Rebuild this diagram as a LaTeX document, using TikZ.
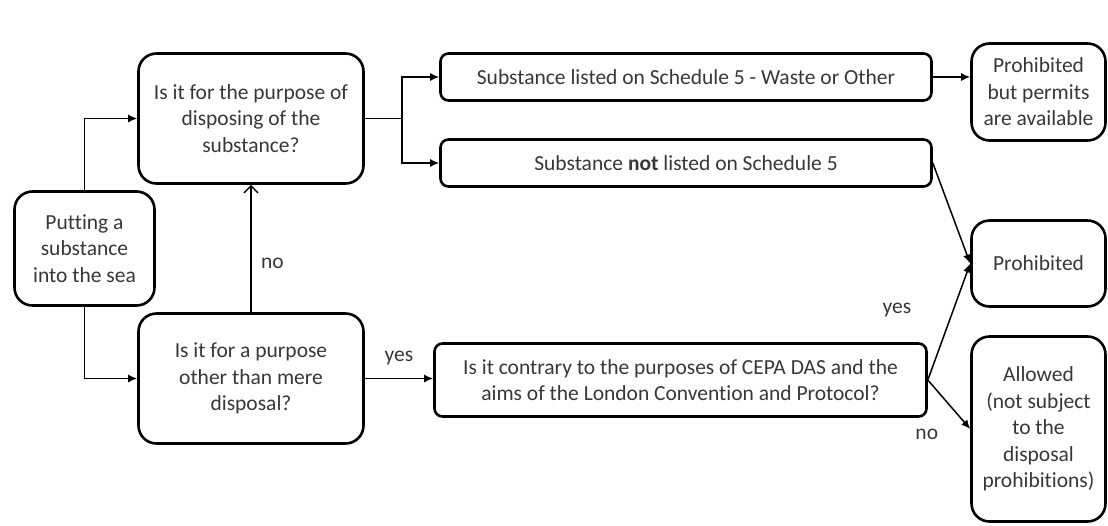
\documentclass[tikz,border=0pt]{standalone}
\usepackage{fontspec}
\setmainfont{Carlito}[Ligatures={NoCommon}]
\usetikzlibrary{arrows.meta}
\definecolor{txtgray}{RGB}{55,55,55}
\begin{document}
\begin{tikzpicture}[x=1pt, y=-1pt,
  box/.style={draw, line width=2.6pt, rounded corners=18pt, align=center, text=txtgray,
    inner sep=0pt, font=\fontsize{21.5}{26.5}\selectfont},
  thin/.style={box, rounded corners=8pt},
  arr/.style={line width=1.5pt, -{Latex[length=9pt,width=8pt]}},
  openarr/.style={line width=1.5pt, -{Straight Barb[length=7pt,width=14pt,line width=1.5pt]}},
  lbl/.style={text=txtgray, font=\fontsize{21.5}{24}\selectfont}]
\useasboundingbox (0,0) rectangle (1108,525);

\node[box, minimum width=140pt, minimum height=114pt] (box0) at (84.5,248.5) {Putting a\\substance\\into the sea};
\node[box, minimum width=225pt, minimum height=130pt] (box1) at (251,118.5) {Is it for the purpose of\\disposing of the\\substance?};
\node[box, minimum width=225pt, minimum height=130pt] (box2) at (251,378.5) {Is it for a purpose\\other than mere\\disposal?};

\node[thin, minimum width=491pt, minimum height=47pt] (box3) at (686,77) {Substance listed on Schedule 5 - Waste or Other};
\node[thin, minimum width=491pt, minimum height=47pt] (box4) at (686,163) {Substance \textbf{not} listed on Schedule 5};
\node[thin, minimum width=492pt, minimum height=73pt] (box5) at (680.5,380) {Is it contrary to the purposes of CEPA DAS and the\\aims of the London Convention and Protocol?};

\node[box, minimum width=134pt, minimum height=97pt] (box6) at (1038.5,92) {Prohibited\\but permits\\are available};
\node[box, minimum width=134pt, minimum height=86pt] (box7) at (1038.5,263.5) {Prohibited};
\node[box, minimum width=134pt, minimum height=185pt] (box8) at (1038.5,429) {Allowed\\(not subject\\to the\\disposal\\prohibitions)};

\draw[arr] (box0.north) |- (box1.west);
\draw[arr] (box0.south) |- (box2.west);
\draw[openarr] (box2.north) -- (box1.south) node[lbl, pos=0.38, right=6pt] (lno1) {no};

\coordinate (j1) at (402,118.5);
\draw[line width=1.5pt] (box1.east) -- (j1);
\draw[arr] (j1) |- (box3.west);
\draw[arr] (j1) |- (box4.west);

\draw[arr] (box3.east) -- (box3.east -| box6.west);
\draw[arr] (box4.east) -- (box7.west);

\draw[arr] (box2.east) -- (box2.east -| box5.west) node[lbl, midway, above=9pt] (lyes1) {yes};
\draw[arr] (box5.east) -- (box7.west) node[lbl, pos=0.6, anchor=east, xshift=-38pt] (lyes2) {yes};
\draw[arr] (box5.east) -- (box8.west) node[lbl, pos=1, anchor=east, xshift=-28pt, yshift=-5pt] (lno2) {no};

\end{tikzpicture}
\end{document}
